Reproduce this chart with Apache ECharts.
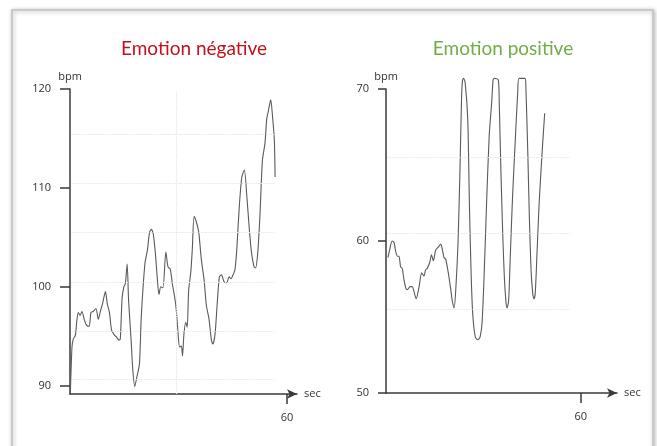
<!DOCTYPE html>
<html>
<head>
<meta charset="utf-8">
<script src="https://cdn.jsdelivr.net/npm/echarts@6/dist/echarts.min.js"></script>
<style>
  html, body { margin: 0; padding: 0; background: #fff; }
  #chart { width: 657px; height: 446px; }
</style>
</head>
<body>
<div id="chart"></div>
<script>
// Emotion négative : temps (sec) / fréquence cardiaque (bpm)
const negTime = [0.1, 0.55, 0.9, 1.5, 1.9, 2.3, 2.8, 3.3, 4.0, 4.6, 5.3, 5.8, 6.4, 7.2, 7.8, 8.4, 9.0, 9.8, 10.3, 10.9,
  11.5, 12.3, 12.9, 13.5, 13.9, 14.4, 14.9, 15.3, 15.8, 16.2, 16.9, 17.3, 17.9, 18.5, 19.2, 19.7, 20.7, 21.4, 22.0, 22.5,
  23.0, 23.6, 24.1, 24.6, 25.1, 25.7, 26.5, 27.1, 27.7, 28.3, 29.0, 29.4, 29.9, 30.3, 30.8, 31.1, 31.5, 32.0, 32.4, 32.8,
  33.4, 33.8, 34.3, 34.9, 35.6, 36.3, 37.1, 37.7, 38.4, 39.1, 39.5, 40.1, 40.7, 41.3, 41.9, 42.6, 43.3, 44.0, 44.5, 45.2,
  45.6, 46.1, 46.8, 47.5, 48.2, 48.9, 49.6, 50.2, 50.9, 51.3, 51.9, 52.5, 53.2, 53.9, 54.4, 54.8, 55.5, 56.0, 56.5, 56.7]
const negBpm = [89.2, 93.9, 94.7, 95.1, 96.6, 97.4, 97.1, 97.5, 96.6, 96.1, 96.0, 97.4, 97.5, 97.8, 96.7, 97.5, 98.3, 99.5, 98.3, 97.4,
  95.6, 95.1, 94.9, 94.6, 94.7, 98.8, 100.0, 100.3, 102.3, 98.6, 94.6, 91.9, 89.9, 90.9, 92.2, 96.9, 102.3, 103.7, 105.5, 105.8,
  105.4, 103.4, 101.0, 99.2, 100.0, 99.9, 103.5, 102.0, 101.8, 100.3, 98.8, 97.6, 95.2, 93.9, 94.0, 93.0, 95.2, 96.4, 95.9, 99.6,
  101.5, 103.7, 107.1, 106.6, 105.5, 102.8, 100.6, 98.1, 96.8, 94.6, 94.2, 95.2, 98.3, 101.0, 101.2, 100.5, 100.4, 101.0, 100.8, 101.3,
  101.7, 103.7, 108.1, 111.1, 111.8, 109.1, 105.7, 103.4, 102.0, 101.9, 103.4, 107.1, 112.8, 114.5, 117.0, 117.7, 118.9, 117.2, 114.8, 111.1]

// Emotion positive
const posTime = [0.6, 1.2, 1.9, 2.5, 3.0, 3.5, 4.0, 4.5, 5.0, 5.5, 6.1, 6.6, 7.4, 8.1, 8.6, 9.3, 10.2, 11.0, 11.7, 12.2,
  12.7, 13.5, 14.0, 14.6, 15.3, 16.1, 16.9, 17.4, 17.9, 18.4, 19.2, 19.9, 20.4, 21.0, 21.5, 22.2, 22.8, 23.3, 23.6, 23.9,
  24.4, 25.2, 25.7, 26.2, 26.7, 27.5, 28.3, 29.0, 29.6, 30.3, 31.0, 31.8, 32.6, 33.0, 33.4, 34.6, 34.9, 35.4, 36.0, 36.5,
  37.0, 37.3, 37.8, 38.3, 39.0, 39.9, 40.6, 41.0, 42.9, 43.1, 43.7, 44.2, 44.7, 45.2, 45.6, 46.0, 46.5, 47.2, 48.1, 48.9]
const posBpm = [58.9, 59.5, 60.0, 59.9, 59.3, 59.0, 59.0, 58.3, 58.2, 57.5, 56.9, 56.8, 57.0, 57.0, 56.7, 56.2, 57.0, 57.9, 57.7, 58.1,
  58.2, 58.6, 59.1, 58.7, 59.4, 59.6, 59.8, 59.4, 58.9, 58.8, 57.9, 56.9, 56.1, 55.6, 56.8, 59.9, 64.7, 69.5, 70.6, 70.7,
  70.4, 68.0, 62.5, 58.1, 55.3, 53.7, 53.5, 53.7, 54.6, 58.1, 62.5, 66.9, 69.2, 70.6, 70.7, 70.6, 69.1, 64.7, 60.3, 57.5,
  55.9, 55.6, 56.1, 59.0, 62.9, 66.9, 69.8, 70.7, 70.7, 70.2, 65.8, 61.4, 58.1, 56.6, 56.2, 56.6, 59.0, 62.5, 65.8, 68.4]

const negTicksY = [90, 100, 110, 120]
const posTicksY = [50, 60, 70]
const ticksX = [60]
// lignes de quadrillage pâles (valeurs bpm)
const negGridBpm = [90.6, 95.5, 100.5, 105.5, 110.5, 115.4]
const posGridBpm = [55.5, 60.5, 65.5, 70.5]

const chart = echarts.init(document.getElementById('chart'))

const axisColor = '#3a3a3a'
const textColor = '#333'
const font = 'Open Sans'

function xAxisOf(gridIndex, max) {
  return {
    type: 'value',
    gridIndex: gridIndex,
    min: 0,
    max: max,
    name: 'sec',
    nameLocation: 'end',
    nameGap: 7,
    nameTextStyle: { color: textColor, fontSize: 11, fontFamily: font },
    axisLine: {
      show: true,
      onZero: false,
      symbol: ['none', 'arrow'],
      symbolSize: [7, 10],
      lineStyle: { color: axisColor, width: 1.5 }
    },
    axisTick: {
      show: true,
      customValues: ticksX,
      length: 10,
      lineStyle: { color: axisColor, width: 1.5 }
    },
    axisLabel: {
      customValues: ticksX,
      margin: 18,
      color: textColor,
      fontSize: 11,
      fontFamily: font
    },
    splitLine: { show: false }
  }
}

function yAxisOf(gridIndex, min, max, ticks, tickLen, margin) {
  return {
    type: 'value',
    gridIndex: gridIndex,
    min: min,
    max: max,
    name: 'bpm',
    nameLocation: 'end',
    nameGap: 7,
    nameTextStyle: { color: textColor, fontSize: 11, fontFamily: font, align: 'center' },
    axisLine: { show: true, onZero: false, lineStyle: { color: axisColor, width: 1.5 } },
    axisTick: {
      show: true,
      customValues: ticks,
      length: tickLen,
      lineStyle: { color: axisColor, width: 1.5 }
    },
    axisLabel: {
      customValues: ticks,
      margin: margin,
      color: textColor,
      fontSize: 11,
      fontFamily: font
    },
    splitLine: { show: false }
  }
}

function gridLines(values, xEnd, extra) {
  const lines = values.map(function (v) {
    return [{ coord: [0.4, v] }, { coord: [xEnd, v] }]
  })
  return lines.concat(extra || [])
}

const option = {
  backgroundColor: '#fff',
  animation: false,
  graphic: [{
    type: 'rect',
    z: -10,
    shape: { x: 12, y: 10, width: 641, height: 470 },
    style: {
      fill: '#fff',
      stroke: '#c9c9c9',
      lineWidth: 2,
      shadowBlur: 4,
      shadowColor: 'rgba(0,0,0,0.25)',
      shadowOffsetX: 1,
      shadowOffsetY: 1
    }
  }],
  title: [
    {
      text: 'Emotion négative',
      left: 189,
      top: 34,
      textAlign: 'center',
      textStyle: { color: '#c0121b', fontSize: 19, fontWeight: 'normal', fontFamily: 'Lato' }
    },
    {
      text: 'Emotion positive',
      left: 498,
      top: 34,
      textAlign: 'center',
      textStyle: { color: '#6fae45', fontSize: 19, fontWeight: 'normal', fontFamily: 'Lato' }
    }
  ],
  grid: [
    { left: 70, top: 89, width: 227, height: 305 },
    { left: 386, top: 89, width: 231, height: 304 }
  ],
  xAxis: [xAxisOf(0, 62.76), xAxisOf(1, 71.19)],
  yAxis: [
    yAxisOf(0, 89.15, 120, negTicksY, 10, 19),
    yAxisOf(1, 50, 70, posTicksY, 8, 17)
  ],
  series: [
    {
      type: 'line',
      xAxisIndex: 0,
      yAxisIndex: 0,
      data: negTime.map(function (t, i) { return [t, negBpm[i]] }),
      showSymbol: false,
      smooth: 0.25,
      lineStyle: { color: '#5a5a5a', width: 1.1 },
      markLine: {
        silent: true,
        symbol: 'none',
        label: { show: false },
        lineStyle: { color: '#e4e4e4', type: 'dotted', width: 1.2 },
        data: gridLines(negGridBpm, 56.7, [[{ coord: [29.5, 89.15] }, { coord: [29.5, 119.7] }]])
      }
    },
    {
      type: 'line',
      xAxisIndex: 1,
      yAxisIndex: 1,
      data: posTime.map(function (t, i) { return [t, posBpm[i]] }),
      showSymbol: false,
      smooth: 0.25,
      clip: false,
      lineStyle: { color: '#5a5a5a', width: 1.1 },
      markLine: {
        silent: true,
        symbol: 'none',
        label: { show: false },
        lineStyle: { color: '#e4e4e4', type: 'dotted', width: 1.2 },
        data: gridLines(posGridBpm, 56.7)
      }
    }
  ]
}

chart.setOption(option)
</script>
</body>
</html>
